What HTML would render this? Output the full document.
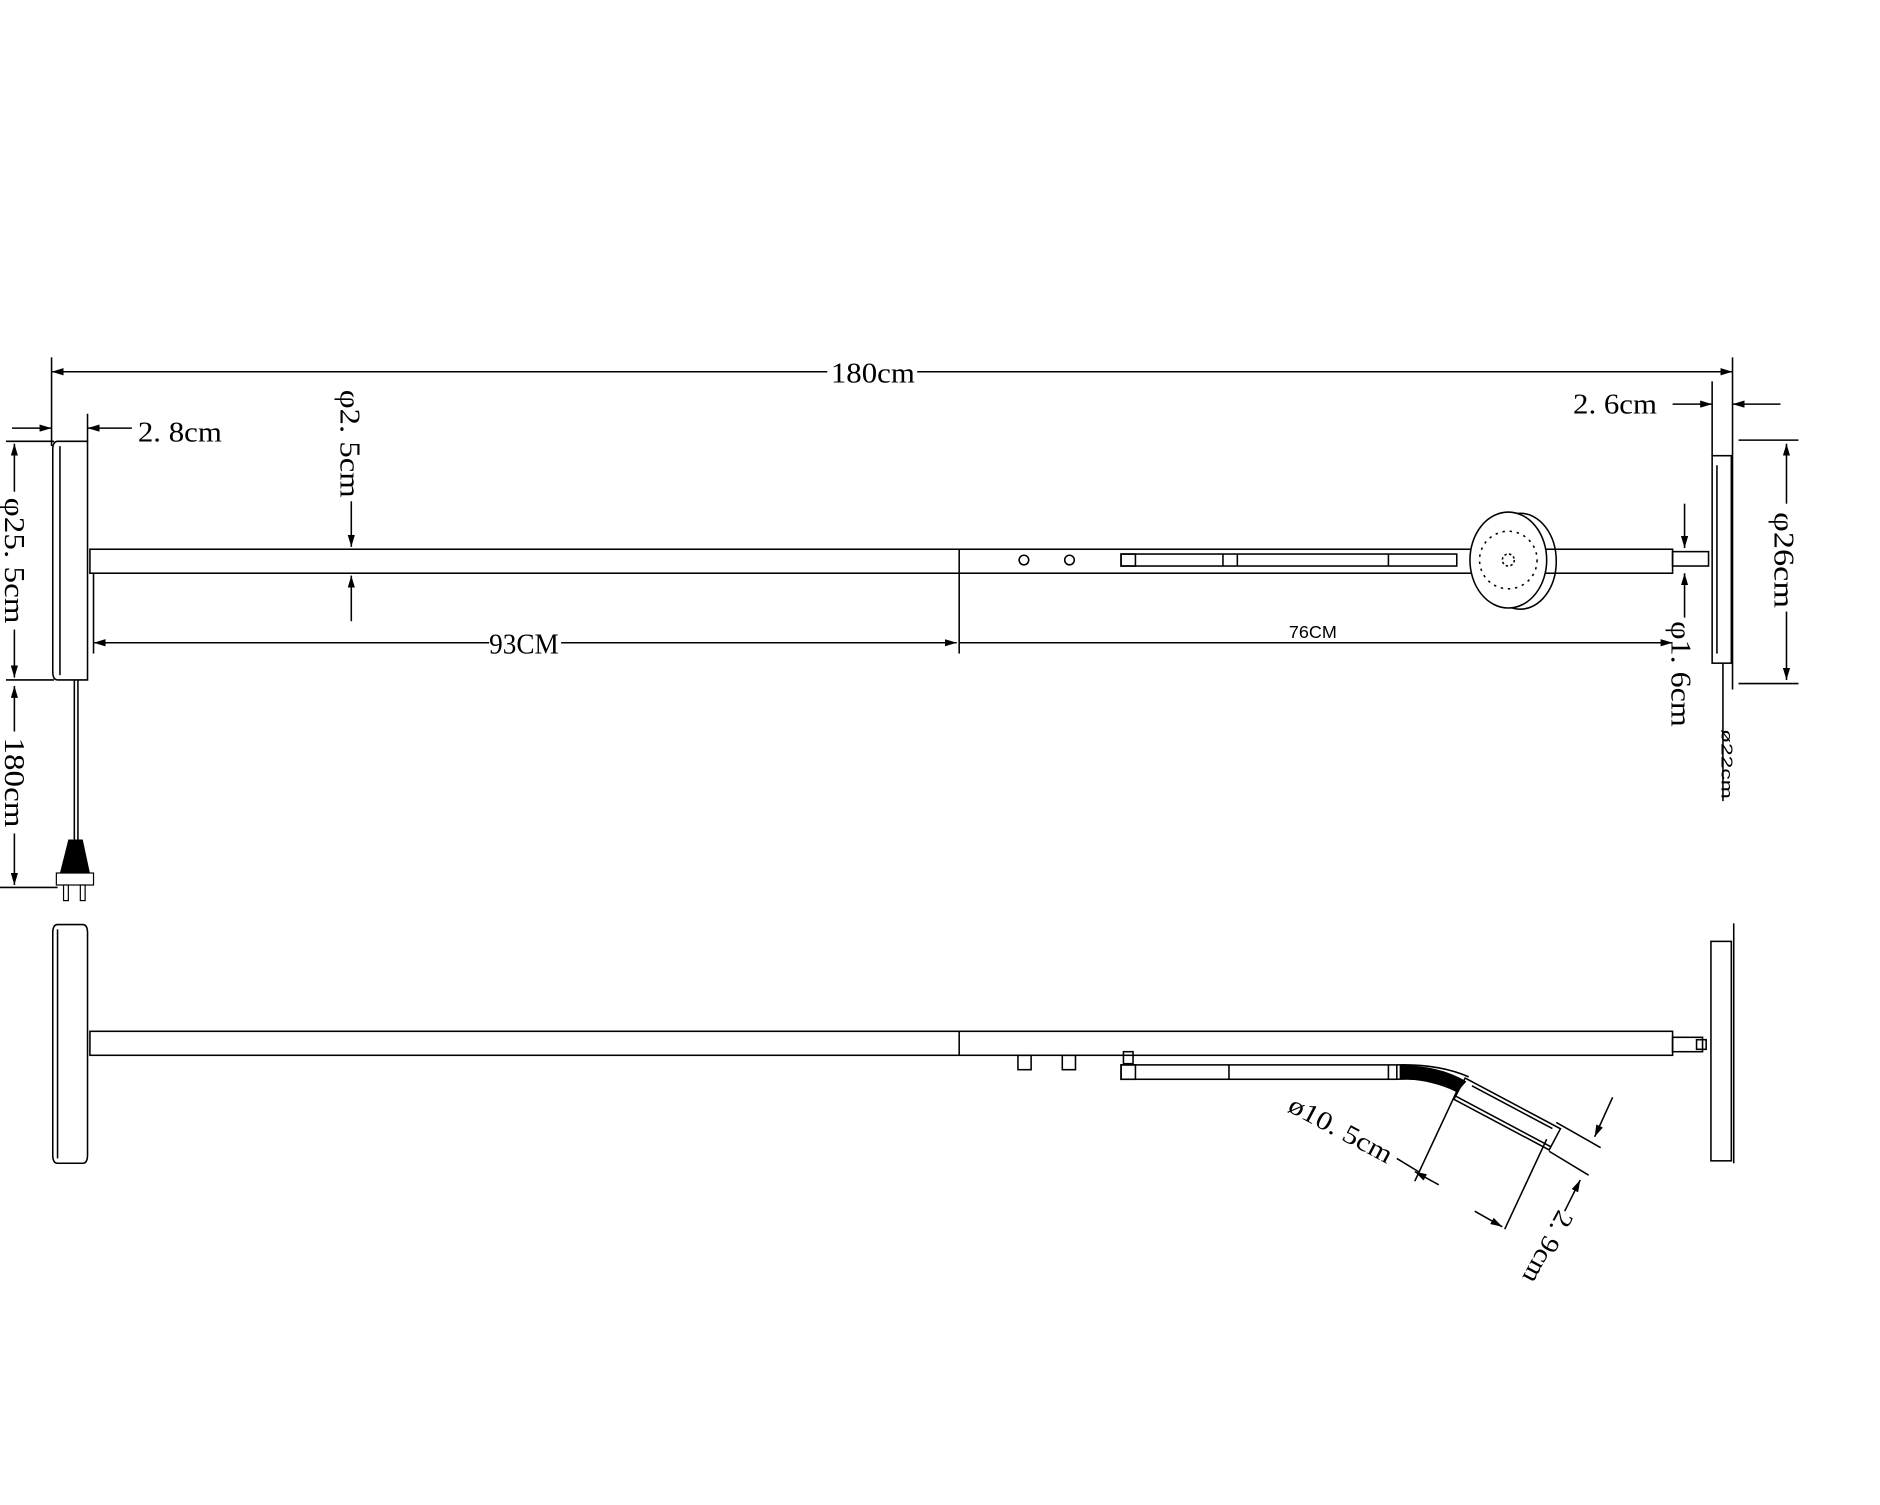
<!DOCTYPE html>
<html><head><meta charset="utf-8"><style>
html,body{margin:0;padding:0;background:#fff;}
svg{display:block;}
text{font-family:"Liberation Serif",serif;fill:#000;}
</style></head><body>
<svg width="1880" height="1505" viewBox="0 0 1568 1255" preserveAspectRatio="none" xmlns="http://www.w3.org/2000/svg">
<defs>
<marker id="a" viewBox="0 0 10 6" refX="10" refY="3" markerWidth="10" markerHeight="6" orient="auto-start-reverse" markerUnits="userSpaceOnUse"><path d="M0,0 L10,3 L0,6z" fill="#000"/></marker>
</defs>
<g stroke="#000" stroke-width="1.3" fill="none">
<line x1="43" y1="298" x2="43" y2="372"/>
<line x1="1445" y1="298" x2="1445" y2="575"/>
<line x1="43" y1="310" x2="690" y2="310" marker-start="url(#a)"/>
<line x1="765" y1="310" x2="1445" y2="310" marker-end="url(#a)"/>
<line x1="73" y1="345" x2="73" y2="368"/>
<line x1="10" y1="357" x2="43" y2="357" marker-end="url(#a)"/>
<line x1="110" y1="357" x2="73" y2="357" marker-end="url(#a)"/>
<path d="M48,368 H73 V567 H48 Q44,567 44,560 V375 Q44,368 48,368z"/>
<line x1="50" y1="372" x2="50" y2="563"/>
<line x1="5" y1="368" x2="45" y2="368"/>
<line x1="5" y1="567" x2="45" y2="567"/>
<line x1="12" y1="410" x2="12" y2="370" marker-end="url(#a)"/>
<line x1="12" y1="525" x2="12" y2="565" marker-end="url(#a)"/>
<line x1="12" y1="610" x2="12" y2="572" marker-end="url(#a)"/>
<line x1="12" y1="695" x2="12" y2="738" marker-end="url(#a)"/>
<line x1="0" y1="740" x2="48" y2="740"/>
<line x1="62" y1="567" x2="62" y2="700"/>
<line x1="65" y1="567" x2="65" y2="700"/>
<rect x="75" y="458" width="1320" height="20"/>
<line x1="800" y1="458" x2="800" y2="545"/>
<line x1="78" y1="478" x2="78" y2="545"/>
<rect x="1395" y="460" width="30" height="12"/>
<line x1="293" y1="418" x2="293" y2="456" marker-end="url(#a)"/>
<line x1="293" y1="518" x2="293" y2="480" marker-end="url(#a)"/>
<line x1="78" y1="536" x2="408" y2="536" marker-start="url(#a)"/>
<line x1="468" y1="536" x2="798" y2="536" marker-end="url(#a)"/>
<line x1="800" y1="536" x2="1395" y2="536" marker-end="url(#a)"/>
<circle cx="854" cy="467" r="4"/><circle cx="892" cy="467" r="4"/>
<rect x="935" y="462" width="280" height="10"/>
<rect x="935" y="462" width="12" height="10"/>
<line x1="1020" y1="462" x2="1020" y2="472"/>
<line x1="1032" y1="462" x2="1032" y2="472"/>
<line x1="1158" y1="462" x2="1158" y2="472"/>
<ellipse cx="1268" cy="468" rx="30" ry="40"/>
<ellipse cx="1258" cy="467" rx="32" ry="40" fill="#fff"/>
<circle cx="1258" cy="467" r="24" stroke-dasharray="2 4"/>
<circle cx="1258" cy="467" r="5" stroke-dasharray="2 2"/>
<rect x="1428" y="380" width="16" height="173"/>
<line x1="1432" y1="388" x2="1432" y2="545"/>
<line x1="1428" y1="318" x2="1428" y2="380"/>
<line x1="1395" y1="337" x2="1428" y2="337" marker-end="url(#a)"/>
<line x1="1485" y1="337" x2="1445" y2="337" marker-end="url(#a)"/>
<line x1="1450" y1="367" x2="1500" y2="367"/>
<line x1="1450" y1="570" x2="1500" y2="570"/>
<line x1="1490" y1="420" x2="1490" y2="370" marker-end="url(#a)"/>
<line x1="1490" y1="510" x2="1490" y2="567" marker-end="url(#a)"/>
<line x1="1405" y1="420" x2="1405" y2="457" marker-end="url(#a)"/>
<line x1="1405" y1="515" x2="1405" y2="478" marker-end="url(#a)"/>
<line x1="1437" y1="553" x2="1437" y2="668"/>

<path d="M48,771 H69 Q73,771 73,778 V963 Q73,970 69,970 H48 Q44,970 44,963 V778 Q44,771 48,771z"/>
<line x1="48" y1="775" x2="48" y2="966"/>
<rect x="75" y="860" width="1320" height="20"/>
<line x1="800" y1="860" x2="800" y2="880"/>
<rect x="1395" y="865" width="25" height="12"/>
<rect x="1415" y="867" width="8" height="8"/>
<rect x="1427" y="785" width="17" height="183"/>
<line x1="1446" y1="770" x2="1446" y2="970"/>
<rect x="849" y="880" width="11" height="12"/>
<rect x="886" y="880" width="11" height="12"/>
<rect x="937" y="877" width="8" height="10"/>
<rect x="935" y="888" width="230" height="12"/>
<rect x="935" y="888" width="12" height="12"/>
<line x1="1025" y1="888" x2="1025" y2="900"/>
<line x1="1158" y1="888" x2="1158" y2="900"/>
<path d="M1165,888 Q1200,887 1225,898 M1165,900 Q1195,898 1215,910" />
<path d="M1168,889 Q1200,889 1222,902 L1215,910 Q1195,900 1168,899z" fill="#000"/>
<g transform="translate(1222,899) rotate(28)">
<rect x="0" y="0" width="90" height="20"/>
<line x1="0" y1="17" x2="90" y2="17"/>
<line x1="8" y1="3" x2="84" y2="3"/>
</g>
<line x1="1215" y1="910" x2="1180" y2="985"/>
<line x1="1290" y1="950" x2="1255" y2="1025"/>
<line x1="1165" y1="966" x2="1183" y2="977"/>
<line x1="1200" y1="988" x2="1180" y2="977" marker-end="url(#a)"/>
<line x1="1230" y1="1010" x2="1253" y2="1023" marker-end="url(#a)"/>
<line x1="1298" y1="936" x2="1335" y2="957"/>
<line x1="1292" y1="960" x2="1325" y2="980"/>
<line x1="1345" y1="915" x2="1330" y2="948" marker-end="url(#a)"/>
<line x1="1305" y1="1010" x2="1318" y2="984" marker-end="url(#a)"/>
</g>
<g>
<path d="M57,700 H69 L75,728 H50z" fill="#000"/>
<rect x="47" y="728" width="31" height="10" fill="#fff" stroke="#000"/>
<rect x="53" y="738" width="4" height="13" fill="#fff" stroke="#000"/>
<rect x="67" y="738" width="4" height="13" fill="#fff" stroke="#000"/>
</g>
<text x="728" y="319" font-size="24" text-anchor="middle" textLength="70" lengthAdjust="spacingAndGlyphs">180cm</text>
<text x="115" y="368" font-size="24" textLength="70" lengthAdjust="spacingAndGlyphs">2. 8cm</text>
<text x="1312" y="345" font-size="24" textLength="70" lengthAdjust="spacingAndGlyphs">2. 6cm</text>
<text x="437" y="545" font-size="24" text-anchor="middle" textLength="58" lengthAdjust="spacingAndGlyphs">93CM</text>
<text x="1095" y="532" font-size="15" text-anchor="middle" style="font-family:'Liberation Sans',sans-serif">76CM</text>
<text transform="translate(284,325) rotate(90)" font-size="24" textLength="90" lengthAdjust="spacingAndGlyphs">φ2. 5cm</text>
<text transform="translate(4,415) rotate(90)" font-size="24" textLength="105" lengthAdjust="spacingAndGlyphs">φ25. 5cm</text>
<text transform="translate(4,615) rotate(90)" font-size="24" textLength="75" lengthAdjust="spacingAndGlyphs">180cm</text>
<text transform="translate(1480,427) rotate(90)" font-size="24" textLength="80" lengthAdjust="spacingAndGlyphs">φ26cm</text>
<text transform="translate(1394,518) rotate(90)" font-size="24" textLength="88" lengthAdjust="spacingAndGlyphs">φ1. 6cm</text>
<text transform="translate(1436,608) rotate(90)" font-size="13" textLength="58" lengthAdjust="spacingAndGlyphs" style="font-family:'Liberation Sans',sans-serif">ø22cm</text>
<text transform="translate(1073,926) rotate(28)" font-size="22" textLength="95" lengthAdjust="spacingAndGlyphs">ø10. 5cm</text>
<text transform="translate(1300,1008) rotate(118)" font-size="22" textLength="65" lengthAdjust="spacingAndGlyphs">2. 9cm</text>
</svg>
</body></html>
